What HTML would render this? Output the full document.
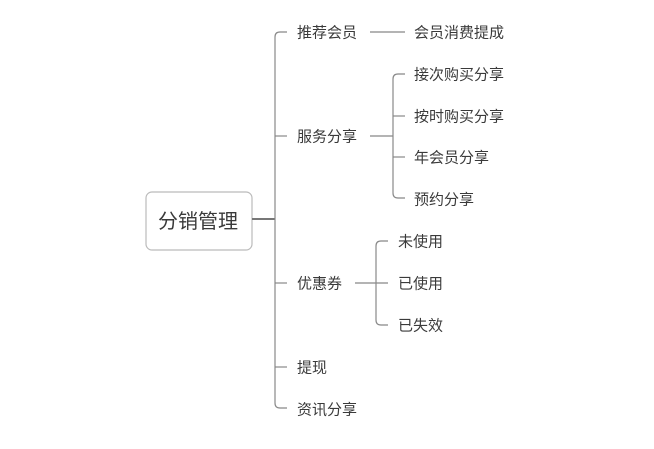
<!DOCTYPE html>
<html><head><meta charset="utf-8"><style>
body{margin:0;background:#fff;width:654px;height:444px;overflow:hidden;}
svg text{font-family:"Liberation Sans","Noto Sans CJK SC",sans-serif;fill:#3a3a3a;font-size:15px;dominant-baseline:central;}
</style></head><body>
<svg width="654" height="444" xmlns="http://www.w3.org/2000/svg">
<g fill="none" stroke="#888" stroke-width="1.2">
<rect x="146" y="192" width="106" height="58" rx="6" ry="6" stroke="#bbb"/>
<line x1="252" y1="219" x2="275" y2="219" stroke-width="2" stroke="#777"/>
<path d="M287 32 H280 Q275 32 275 37 V403 Q275 408 280 408 H287"/>
<line x1="275" y1="136" x2="287" y2="136"/>
<line x1="275" y1="283" x2="287" y2="283"/>
<line x1="275" y1="367" x2="287" y2="367"/>
<line x1="370" y1="32" x2="405" y2="32"/>
<line x1="370" y1="136" x2="393" y2="136"/>
<path d="M405 74 H398 Q393 74 393 79 V193 Q393 198 398 198 H405"/>
<line x1="393" y1="116" x2="405" y2="116"/>
<line x1="393" y1="157" x2="405" y2="157"/>
<line x1="355" y1="283" x2="388" y2="283"/>
<path d="M388 241 H381 Q376 241 376 246 V320 Q376 325 381 325 H388"/>
</g>
<text x="198" y="222" text-anchor="middle" style="font-size:20px">分销管理</text>
<text x="297" y="33">推荐会员</text>
<text x="297" y="137">服务分享</text>
<text x="297" y="284">优惠券</text>
<text x="297" y="368">提现</text>
<text x="297" y="410">资讯分享</text>
<text x="414" y="33">会员消费提成</text>
<text x="414" y="75">接次购买分享</text>
<text x="414" y="117">按时购买分享</text>
<text x="414" y="158">年会员分享</text>
<text x="414" y="200">预约分享</text>
<text x="398" y="242">未使用</text>
<text x="398" y="284">已使用</text>
<text x="398" y="326">已失效</text>
</svg>
</body></html>
